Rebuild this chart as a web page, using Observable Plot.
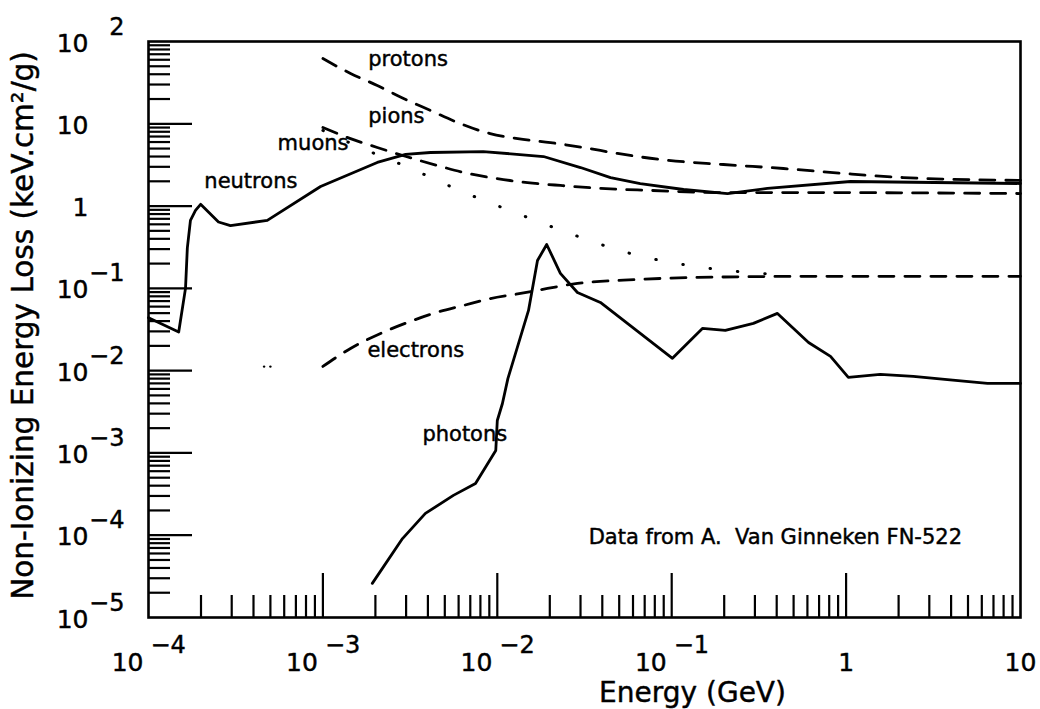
<!DOCTYPE html>
<html><head><meta charset="utf-8">
<script src="https://cdn.jsdelivr.net/npm/d3@7"></script>
<script src="https://cdn.jsdelivr.net/npm/@observablehq/plot@0.6"></script>
<style>body{margin:0;background:#fff;}</style>
</head><body><div id="chart"></div>
<script>
// ---- data (Energy in GeV, NIEL in keV.cm2/g) ----
const neutronE = [1e-4, 1.49e-4, 1.63e-4, 1.67e-4, 1.74e-4, 1.86e-4, 1.99e-4, 2.52e-4, 2.95e-4, 4.8e-4, 9.7e-4, 2.05e-3, 2.98e-3, 4.14e-3, 8.3e-3, 1.84e-2, 3.0e-2, 4.46e-2, 6.6e-2, 0.117, 0.209, 0.354, 1.06, 10];
const neutronL = [0.044, 0.0295, 0.10, 0.31, 0.67, 0.885, 1.05, 0.64, 0.58, 0.67, 1.73, 3.39, 4.24, 4.48, 4.6, 4.0, 2.94, 2.22, 1.88, 1.59, 1.42, 1.64, 1.99, 1.88];

const protonE = [1e-3, 1.44e-3, 2.05e-3, 2.9e-3, 4.14e-3, 5.9e-3, 9.1e-3, 1.31e-2, 2.02e-2, 3.12e-2, 4.89e-2, 8.6e-2, 0.198, 0.437, 0.966, 2.13, 10];
const protonL = [62, 40.9, 29.2, 20.3, 14.5, 10.4, 7.6, 6.6, 5.9, 5.15, 4.36, 3.68, 3.2, 2.86, 2.49, 2.22, 2.05];

const pionE = [1e-3, 1.44e-3, 2.05e-3, 3.0e-3, 4.54e-3, 6.4e-3, 9.1e-3, 1.49e-2, 2.3e-2, 3.9e-2, 7.55e-2, 0.183, 0.548, 10];
const pionL = [9.0, 6.6, 5.15, 4.0, 3.11, 2.56, 2.22, 1.93, 1.78, 1.64, 1.55, 1.46, 1.46, 1.42];

const muonE = [1e-3, 1.54e-3, 3.1e-3, 6.3e-3, 1.31e-2, 2.7e-2, 5.8e-2, 0.125, 0.275, 0.48];
const muonL = [8.3, 5.45, 2.94, 1.5, 0.81, 0.452, 0.265, 0.19, 0.156, 0.145];

const electronE = [1e-3, 1.44e-3, 2.14e-3, 3.06e-3, 4.3e-3, 6.4e-3, 9.1e-3, 1.36e-2, 1.94e-2, 2.88e-2, 6.37e-2, 0.141, 0.686, 10];
const electronL = [0.01125, 0.0186, 0.0283, 0.0385, 0.0496, 0.062, 0.075, 0.0867, 0.0997, 0.115, 0.128, 0.136, 0.14, 0.14];

const photonE = [1.92e-3, 2.86e-3, 3.87e-3, 5.6e-3, 7.5e-3, 9.8e-3, 1.0e-2, 1.07e-2, 1.15e-2, 1.51e-2, 1.70e-2, 1.92e-2, 2.3e-2, 2.88e-2, 3.9e-2, 0.101, 0.150, 0.203, 0.294, 0.404, 0.609, 0.814, 1.03, 1.57, 2.43, 3.81, 6.47, 10];
const photonL = [2.6e-5, 9.1e-5, 1.84e-4, 3.05e-4, 4.26e-4, 1.07e-3, 2.48e-3, 3.99e-3, 8.0e-3, 0.054, 0.218, 0.341, 0.152, 0.089, 0.0674, 0.0141, 0.0326, 0.0308, 0.0375, 0.0496, 0.022, 0.0149, 8.3e-3, 9.0e-3, 8.5e-3, 7.8e-3, 7.0e-3, 7.0e-3];

const strayE = [4.6e-4, 5.0e-4];
const strayL = [0.0112, 0.0112];

// curve labels: text and the (E, NIEL) point where each sits
const labelText = ["protons", "pions", "muons", "neutrons", "electrons", "photons", "Data from A.  Van Ginneken FN-522"];
const labelE = [1.82e-3, 1.82e-3, 5.5e-4, 2.09e-4, 1.8e-3, 3.72e-3, 0.0334];
const labelL = [49.7, 10.1, 4.74, 1.68, 0.0145, 1.38e-3, 7.9e-5];

// tick labels
const xLabelVals = [1e-4, 1e-3, 1e-2, 1e-1, 1, 10];
const xLabelBase = ["10", "10", "10", "10", "1", "10"];
const xLabelExp  = ["−4", "−3", "−2", "−1", "", ""];
const yLabelVals = [1e2, 1e1, 1, 1e-1, 1e-2, 1e-3, 1e-4, 1e-5];
const yLabelBase = ["10", "10", "1", "10", "10", "10", "10", "10"];
const yLabelExp  = ["2", "", "", "−1", "−2", "−3", "−4", "−5"];

const xTitle = "Energy (GeV)";
const yTitle = "Non-Ionizing Energy Loss (keV.cm²/g)";

// tick positions
const xMajor = [1e-3, 1e-2, 1e-1, 1];
const yMajor = [1e-4, 1e-3, 1e-2, 1e-1, 1, 10];
const xMinor = [], yMinor = [];
for (let d = -4; d <= 0; d++) for (let m = 2; m <= 9; m++) xMinor.push(m * Math.pow(10, d));
for (let d = -5; d <= 1; d++) for (let m = 2; m <= 9; m++) yMinor.push(m * Math.pow(10, d));

const rows = (E, L) => E.map((e, i) => ({e, l: L[i]}));

const W = 1040, H = 709, mL = 148, mR = 20, mT = 41, mB = 92;
const pw = W - mL - mR, ph = H - mT - mB;
const FONT = "DejaVu Sans";

const xLab = xLabelVals.map((v, i) => ({v, b: xLabelBase[i], x: xLabelExp[i]}));
const yLab = yLabelVals.map((v, i) => ({v, b: yLabelBase[i], x: yLabelExp[i]}));
const labs = labelText.map((t, i) => ({t, e: labelE[i], l: labelL[i]}));

const T = {fill: "black", stroke: "black", strokeWidth: 0.45, paintOrder: "fill"};

const chart = Plot.plot({
  width: W, height: H,
  marginLeft: mL, marginRight: mR, marginTop: mT, marginBottom: mB,
  x: {type: "log", domain: [1e-4, 10], axis: null},
  y: {type: "log", domain: [1e-5, 100], axis: null},
  style: {fontFamily: FONT, background: "white", color: "black"},
  marks: [
    // inward ticks
    Plot.tickX(xMajor, {x: d => d, insetTop: ph - 44, strokeWidth: 2.2}),
    Plot.tickX(xMinor, {x: d => d, insetTop: ph - 22, strokeWidth: 2.2}),
    Plot.tickY(yMajor, {y: d => d, insetRight: pw - 44, strokeWidth: 2.2}),
    Plot.tickY(yMinor, {y: d => d, insetRight: pw - 22, strokeWidth: 2.2}),
    Plot.frame({stroke: "black", strokeWidth: 2.6}),
    // curves
    Plot.line(rows(neutronE, neutronL), {x: "e", y: "l", stroke: "black", strokeWidth: 2.8, strokeLinejoin: "round"}),
    Plot.line(rows(photonE, photonL), {x: "e", y: "l", stroke: "black", strokeWidth: 2.8, strokeLinejoin: "round"}),
    Plot.line(rows(protonE, protonL), {x: "e", y: "l", stroke: "black", strokeWidth: 2.8, strokeDasharray: "15,11", curve: "monotone-x"}),
    Plot.line(rows(pionE, pionL), {x: "e", y: "l", stroke: "black", strokeWidth: 2.8, strokeDasharray: "15,11", curve: "monotone-x"}),
    Plot.line(rows(electronE, electronL), {x: "e", y: "l", stroke: "black", strokeWidth: 2.8, strokeDasharray: "15,11", curve: "monotone-x"}),
    Plot.line(rows(muonE, muonL), {x: "e", y: "l", stroke: "black", strokeWidth: 3, strokeDasharray: "0.5,27", strokeLinecap: "round", curve: "monotone-x"}),
    Plot.dot(rows(strayE, strayL), {x: "e", y: "l", r: 1.2, fill: "black", stroke: null}),
    // curve labels
    Plot.text(labs, {x: "e", y: "l", text: "t", textAnchor: "start", lineAnchor: "bottom", fontSize: 21, ...T}),
    // x tick labels
    Plot.text(xLab.filter(d => d.x), {x: "v", frameAnchor: "bottom", text: "b", textAnchor: "end", dx: -5, dy: 53, lineAnchor: "bottom", fontSize: 25, ...T}),
    Plot.text(xLab.filter(d => d.x), {x: "v", frameAnchor: "bottom", text: "x", textAnchor: "start", dx: 2, dy: 35, lineAnchor: "bottom", fontSize: 24, ...T}),
    Plot.text(xLab.filter(d => !d.x), {x: "v", frameAnchor: "bottom", text: "b", textAnchor: "middle", dy: 53, lineAnchor: "bottom", fontSize: 25, ...T}),
    // y tick labels
    Plot.text(yLab, {y: "v", frameAnchor: "left", text: "b", textAnchor: "end", dx: -60, dy: 10, lineAnchor: "bottom", fontSize: 25, ...T}),
    Plot.text(yLab.filter(d => d.x), {y: "v", frameAnchor: "left", text: "x", textAnchor: "end", dx: -24, dy: -7, lineAnchor: "bottom", fontSize: 24, ...T}),
    // axis titles
    Plot.text([xTitle], {frameAnchor: "bottom", dx: 108, dy: 84, lineAnchor: "bottom", textAnchor: "middle", fontSize: 28, ...T}),
    Plot.text([yTitle], {frameAnchor: "left", dx: -116, dy: -4, rotate: -90, lineAnchor: "bottom", textAnchor: "middle", fontSize: 29.5, ...T})
  ]
});
document.getElementById("chart").appendChild(chart);
</script>
</body></html>
